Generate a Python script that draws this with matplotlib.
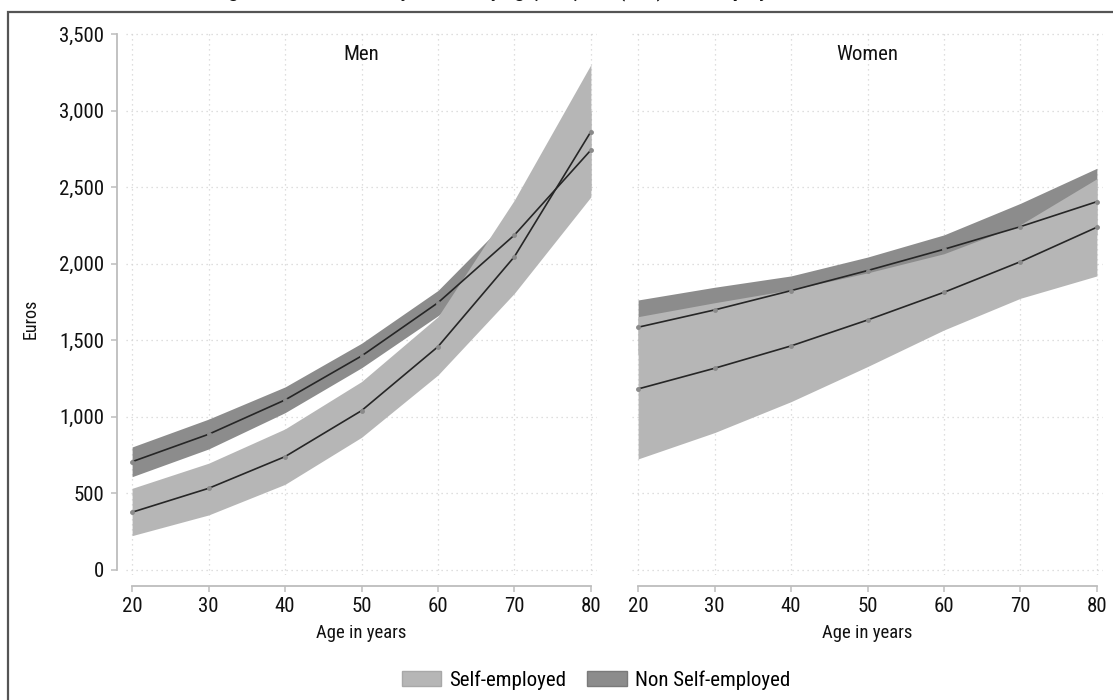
import matplotlib

matplotlib.use("Agg")
import matplotlib.pyplot as plt
from matplotlib import font_manager
from matplotlib.patches import Patch, Rectangle

# -- data -----------------------------------------------------------------------

ages = [20, 30, 40, 50, 60, 70, 80]

men_se_mean = [377, 533, 740, 1040, 1458, 2046, 2862]
men_se_lo = [224, 359, 559, 866, 1273, 1807, 2436]
men_se_hi = [533, 697, 921, 1230, 1654, 2416, 3300]

men_nse_mean = [707, 886, 1110, 1397, 1745, 2187, 2742]
men_nse_lo = [609, 790, 1027, 1320, 1660, 2040, 2480]
men_nse_hi = [803, 985, 1195, 1480, 1825, 2330, 3000]

women_se_mean = [1182, 1317, 1463, 1632, 1813, 2013, 2238]
women_se_lo = [725, 897, 1099, 1328, 1567, 1774, 1920]
women_se_hi = [1654, 1745, 1830, 1940, 2065, 2255, 2555]

women_nse_mean = [1585, 1698, 1824, 1955, 2094, 2242, 2405]
women_nse_lo = [1410, 1550, 1730, 1865, 2000, 2090, 2190]
women_nse_hi = [1763, 1846, 1920, 2043, 2188, 2394, 2623]

yticks = [0, 500, 1000, 1500, 2000, 2500, 3000, 3500]
ytick_labels = ["0", "500", "1,000", "1,500", "2,000", "2,500", "3,000", "3,500"]
panels = ["Men", "Women"]
series = ["Self-employed", "Non Self-employed"]
title = "Figure 1: Mean monthly income by age, sex, and (non) self-employment"

# -- style -----------------------------------------------------------------------

names = {f.name for f in font_manager.fontManager.ttflist}
FAMILY, SCALE = "Liberation Sans", 0.86
for cand in ("Liberation Sans Narrow", "Roboto Condensed", "Archivo Narrow"):
    if cand in names:
        FAMILY, SCALE = cand, 1.0
        break
plt.rcParams["font.family"] = [FAMILY, "DejaVu Sans"]

LIGHT = "#b6b6b6"
DARK = "#8c8c8c"
LINE = "#262626"
AXIS = "#bdbdbd"
GRID = "#d4d4d4"

W, H = 1113, 700
fig = plt.figure(figsize=(W / 100, H / 100), dpi=100)


def fx(px):
    return px / W


def fy(px):
    return 1 - px / H


def draw_panel(ax, name, se, nse, yaxis):
    ax.set_xlim(19.2, 80.8)
    ax.set_ylim(-33, 3526)
    ax.grid(True, color=GRID, linestyle=(0, (1, 3)), linewidth=0.9)
    ax.set_axisbelow(True)
    ax.fill_between(ages, nse[1], nse[2], color=DARK, linewidth=0, zorder=2)
    ax.fill_between(ages, se[1], se[2], color=LIGHT, linewidth=0, zorder=3)
    for mean in (nse[0], se[0]):
        ax.plot(ages, mean, color=LINE, lw=1.2, zorder=4,
                marker="o", ms=2.5, mfc="#8a8a8a", mec="#8a8a8a")
    ax.set_xticks(ages)
    ax.set_yticks(yticks)
    for s in ("top", "right"):
        ax.spines[s].set_visible(False)
    ax.spines["bottom"].set_position(("outward", 8))
    ax.spines["bottom"].set_bounds(20, 80)
    ax.spines["bottom"].set_color(AXIS)
    ax.spines["bottom"].set_linewidth(1.3)
    ax.tick_params(axis="x", length=4.5, width=1.1, color=AXIS, pad=3,
                   labelsize=15 * SCALE, labelcolor="#111")
    if yaxis:
        ax.spines["left"].set_position(("outward", 6.5))
        ax.spines["left"].set_bounds(0, 3500)
        ax.spines["left"].set_color(AXIS)
        ax.spines["left"].set_linewidth(1.3)
        ax.set_yticklabels(ytick_labels)
        ax.tick_params(axis="y", length=4, width=1.1, color=AXIS, pad=5,
                       labelsize=15 * SCALE, labelcolor="#111")
    else:
        ax.spines["left"].set_visible(False)
        ax.tick_params(axis="y", length=0, labelleft=False)
    ax.text(0.5, 0.955, name, transform=ax.transAxes, ha="center", va="center",
            fontsize=15 * SCALE, color="#111")


ax1 = fig.add_axes([fx(126), fy(575), fx(471), 545 / H])
ax2 = fig.add_axes([fx(632), fy(575), fx(471), 545 / H])
draw_panel(ax1, panels[0], (men_se_mean, men_se_lo, men_se_hi),
           (men_nse_mean, men_nse_lo, men_nse_hi), True)
draw_panel(ax2, panels[1], (women_se_mean, women_se_lo, women_se_hi),
           (women_nse_mean, women_nse_lo, women_nse_hi), False)

fig.text(fx(31), fy(319), "Euros", rotation=90, ha="center", va="center",
         fontsize=13 * SCALE, color="#111")
for px in (361, 867):
    fig.text(fx(px), fy(633), "Age in years", ha="center", va="center",
             fontsize=13.5 * SCALE, color="#111")

handles = [Patch(facecolor=LIGHT, edgecolor="#a8a8a8", lw=1),
           Patch(facecolor=DARK, edgecolor="#7a7a7a", lw=1)]
fig.legend(handles, series, loc="center", bbox_to_anchor=(fx(596), fy(680)),
           ncol=2, frameon=False, fontsize=15 * SCALE, handlelength=1.9,
           handleheight=0.75, handletextpad=0.4, columnspacing=1.0)

# outer frame, cut off at the right and bottom like the reference
fig.patches.append(Rectangle((fx(8), -0.1), 1.2, fy(12) + 0.1,
                             transform=fig.transFigure, fill=False,
                             edgecolor="#555555", lw=1.6))
# title sits above the cropped top edge, only its descenders show
fig.text(fx(213), fy(-3.5), title, ha="left", va="baseline", fontweight="bold",
         fontsize=15 * SCALE, color="#111")

fig.savefig("out.png", dpi=100)
